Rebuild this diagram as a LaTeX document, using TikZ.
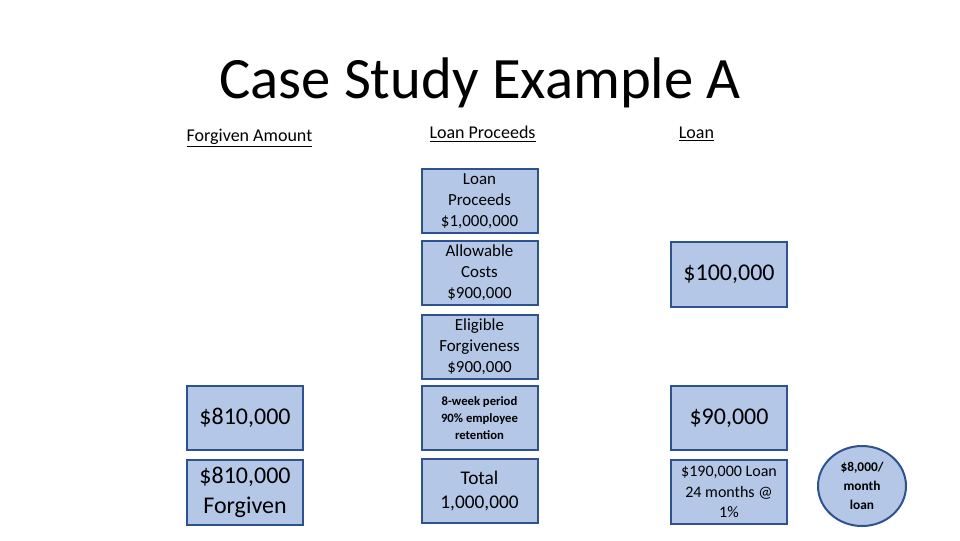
\documentclass[tikz,border=0pt]{standalone}
\usepackage{fontspec}
\setmainfont{Carlito}
\usetikzlibrary{shapes.geometric}
\definecolor{boxfill}{HTML}{B4C7E7}
\definecolor{boxline}{HTML}{2F528F}
\tikzset{
  box/.style={draw=boxline, fill=boxfill, line width=1.5pt, minimum width=87pt, minimum height=48.5pt, inner sep=0pt, align=center, text=black},
  oval/.style={draw=boxline, fill=boxfill, line width=1.5pt, ellipse, minimum width=66pt, minimum height=60pt, inner sep=0pt, align=center},
  hdr/.style={inner sep=0pt, font=\fontsize{13.5}{16}\selectfont},
}
\newcommand{\fs}[2]{\fontsize{#1}{#2}\selectfont}
\begin{document}
\begin{tikzpicture}[x=0.75pt,y=-0.75pt]
\useasboundingbox (0,0) rectangle (960,540);
\node[inner sep=0pt, font=\fs{44}{52}] (title) at (480,83) {Case Study Example A};
\node[hdr] (h1) at (249.5,138) {\underline{Forgiven Amount}};
\node[hdr] (h2) at (482.5,134) {\underline{Loan Proceeds}};
\node[hdr] (h3) at (696.5,134) {\underline{Loan}};
\node[box, font=\fs{12.7}{15.75}] (lp) at (479.5,201) {Loan\\Proceeds\\\$1,000,000};
\node[box, font=\fs{12.7}{15.75}] (ac) at (479.5,273) {Allowable\\Costs\\\$900,000};
\node[box, font=\fs{12.7}{15.75}] (ef) at (479.5,347) {Eligible\\Forgiveness\\\$900,000};
\node[box, font=\bfseries\fs{9.5}{12.5}] (wk) at (479.5,418) {8-week period\\90\% employee\\retention};
\node[box, font=\fs{14.5}{18}] (tot) at (479.5,491) {Total\\1,000,000};
\node[box, font=\fs{18}{22}] (f1) at (245,418) {\$810,000};
\node[box, font=\fs{18}{22.5}] (f2) at (245,492.5) {\$810,000\\Forgiven};
\node[box, font=\fs{18}{22}] (l1) at (729,274.5) {\$100,000};
\node[box, font=\fs{18}{22}] (l2) at (729,418) {\$90,000};
\node[box, font=\fs{12}{15.5}] (l3) at (729,492) {\$190,000 Loan\\24 months @\\1\%};
\node[oval, font=\bfseries\fs{10}{14.5}] (mo) at (862,486) {\$8,000/\\month\\loan};
\end{tikzpicture}
\end{document}
